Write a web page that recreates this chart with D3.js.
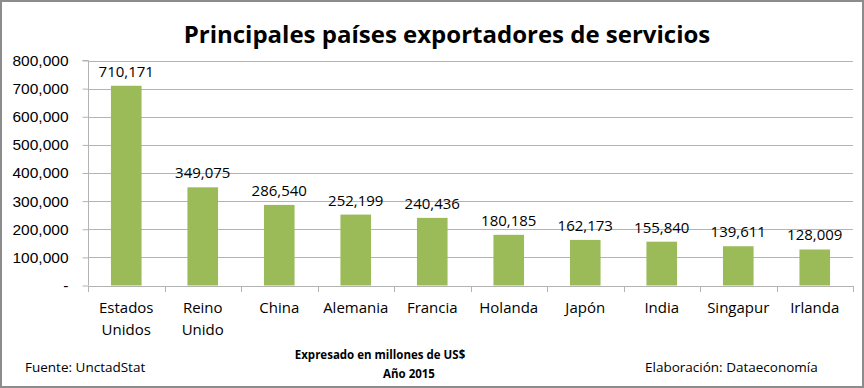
<!DOCTYPE html>
<html>
<head>
<meta charset="utf-8">
<script src="https://cdn.jsdelivr.net/npm/d3@7"></script>
<style>
  body { margin: 0; background: #fff; }
  svg { display: block; font-family: "Open Sans", "DejaVu Sans", sans-serif; }
</style>
</head>
<body>
<script>
const width = 864;
const height = 388;

const countries = [["Estados", "Unidos"], ["Reino", "Unido"], ["China"], ["Alemania"], ["Francia"],
  ["Holanda"], ["Japón"], ["India"], ["Singapur"], ["Irlanda"]];
const exportsUS = [710171, 349075, 286540, 252199, 240436, 180185, 162173, 155840, 139611, 128009];
const yTicks = [0, 100000, 200000, 300000, 400000, 500000, 600000, 700000, 800000];

const margin = {left: 88, right: 11, top: 60.5, bottom: 102.5};

const svg = d3.select("body").append("svg")
  .attr("width", width)
  .attr("height", height);

svg.append("rect")
  .attr("x", 1).attr("y", 1)
  .attr("width", width - 2).attr("height", height - 2)
  .attr("fill", "#fff")
  .attr("stroke", "#8c8c8c")
  .attr("stroke-width", 2);

const x = d3.scaleBand()
  .domain(d3.range(countries.length))
  .range([margin.left, width - margin.right])
  .paddingInner(0.6)
  .paddingOuter(0.3);

const y = d3.scaleLinear()
  .domain([0, 800000])
  .range([height - margin.bottom, margin.top]);

// gridlines
svg.append("g")
  .selectAll("line")
  .data(yTicks.slice(1))
  .join("line")
  .attr("x1", margin.left)
  .attr("x2", width - margin.right)
  .attr("y1", d => Math.round(y(d)) + 0.5)
  .attr("y2", d => Math.round(y(d)) + 0.5)
  .attr("stroke", "#b3b3b3");

// y axis
const yAxis = d3.axisLeft(y)
  .tickValues(yTicks)
  .tickSize(6)
  .tickPadding(14)
  .tickFormat(d => d === 0 ? "-" : d3.format(",")(d));

svg.append("g")
  .attr("transform", `translate(${margin.left + 0.5},0)`)
  .call(yAxis)
  .call(g => g.select(".domain").attr("stroke", "#b3b3b3").attr("d", `M-6,${y(800000)}H0V${y(0)}`))
  .call(g => g.selectAll(".tick line").attr("stroke", "#b3b3b3"))
  .call(g => g.selectAll(".tick text").attr("font-size", 15.5).attr("fill", "#000"));

// bars
svg.append("g")
  .selectAll("rect")
  .data(exportsUS)
  .join("rect")
  .attr("x", (d, i) => x(i))
  .attr("y", d => y(d))
  .attr("width", x.bandwidth())
  .attr("height", d => y(0) - y(d))
  .attr("fill", "#9bbb59");

// x axis
const step = x.step();
const bounds = d3.range(countries.length + 1).map(i => margin.left + i * step);
const xg = svg.append("g");
xg.append("line")
  .attr("x1", margin.left).attr("x2", width - margin.right)
  .attr("y1", Math.round(y(0)) + 0.5).attr("y2", Math.round(y(0)) + 0.5)
  .attr("stroke", "#b3b3b3");
xg.selectAll(".tk")
  .data(bounds)
  .join("line")
  .attr("class", "tk")
  .attr("x1", d => Math.round(d) + 0.5).attr("x2", d => Math.round(d) + 0.5)
  .attr("y1", Math.round(y(0))).attr("y2", Math.round(y(0)) + 6)
  .attr("stroke", "#b3b3b3");

xg.selectAll(".cat")
  .data(countries)
  .join("text")
  .attr("class", "cat")
  .attr("text-anchor", "middle")
  .attr("font-size", 15)
  .attr("fill", "#000")
  .each(function(d, i) {
    d3.select(this).selectAll("tspan")
      .data(d)
      .join("tspan")
      .attr("x", x(i) + x.bandwidth() / 2)
      .attr("y", (t, j) => 313 + j * 22)
      .text(t => t);
  });

// value labels
svg.append("g")
  .selectAll("text")
  .data(exportsUS)
  .join("text")
  .attr("x", (d, i) => x(i) + x.bandwidth() / 2)
  .attr("y", d => y(d) - 9)
  .attr("text-anchor", "middle")
  .attr("font-size", 15)
  .attr("fill", "#000")
  .text(d => d3.format(",")(d));

// title
svg.append("text")
  .attr("x", 447)
  .attr("y", 43)
  .attr("text-anchor", "middle")
  .attr("font-size", 24)
  .attr("font-weight", "bold")
  .attr("fill", "#000")
  .text("Principales países exportadores de servicios");

// footer
svg.append("text")
  .attr("x", 25).attr("y", 372)
  .attr("font-size", 13.5).attr("fill", "#000")
  .text("Fuente: UnctadStat");

svg.append("text")
  .attr("x", 380).attr("y", 359)
  .attr("text-anchor", "middle")
  .attr("font-size", 11.5).attr("font-weight", "bold").attr("fill", "#000")
  .text("Expresado en millones de US$");

svg.append("text")
  .attr("x", 409).attr("y", 378)
  .attr("text-anchor", "middle")
  .attr("font-size", 11.5).attr("font-weight", "bold").attr("fill", "#000")
  .text("Año 2015");

svg.append("text")
  .attr("x", 645).attr("y", 372)
  .attr("font-size", 13.5).attr("fill", "#000")
  .text("Elaboración: Dataeconomía");
</script>
</body>
</html>
